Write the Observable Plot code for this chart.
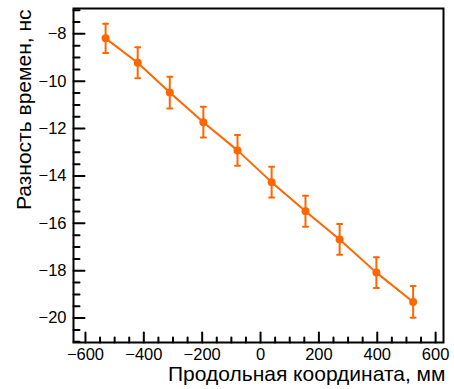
<!DOCTYPE html>
<html><head><meta charset="utf-8">
<script src="https://cdn.jsdelivr.net/npm/d3@7"></script>
<script src="https://cdn.jsdelivr.net/npm/@observablehq/plot@0.6"></script>
<style>body{margin:0;background:#fff}</style>
</head><body><div id="chart"></div>
<script>
const positions = [-531, -421, -311, -196, -79, 38, 154, 271, 397, 523];
const timeDiffs = [-8.19, -9.22, -10.48, -11.73, -12.92, -14.26, -15.49, -16.68, -18.08, -19.32];
const errors = [0.62, 0.65, 0.67, 0.65, 0.65, 0.65, 0.65, 0.65, 0.65, 0.67];
const xMajorTicks = [-600, -400, -200, 0, 200, 400, 600];
const xMinorTicks = d3.range(-600, 601, 50).filter(v => v % 200 !== 0);
const yMajorTicks = [-20, -18, -16, -14, -12, -10, -8];
const yMinorTicks = d3.range(-21, -6.9, 0.5).filter(v => Math.abs(v % 2) > 1e-9);
const xTitle = "Продольная координата, мм";
const yTitle = "Разность времен, нс";
const orange = "#ff6600";

const data = positions.map((x, i) => ({x, y: timeDiffs[i], e: errors[i]}));
const tickShape = {draw(ctx, l) { ctx.moveTo(0, 0); ctx.lineTo(0, -l); }};

const chart = Plot.plot({
  width: 454, height: 389,
  marginLeft: 73, marginTop: 8, marginRight: 11, marginBottom: 47,
  style: {fontFamily: "'Liberation Sans', Arial, sans-serif", fontSize: "16.5px", background: "#fff", color: "#000"},
  x: {domain: [-641, 627]},
  y: {domain: [-21.03, -6.93]},
  marks: [
    Plot.axisX(xMajorTicks, {tickSize: 0, tickPadding: 6, label: null, fontSize: 16.5}),
    Plot.axisY(yMajorTicks, {tickSize: 0, tickPadding: 7, label: null, fontSize: 16.5}),
    Plot.vector(xMajorTicks, {x: d => d, frameAnchor: "bottom", length: 10, anchor: "start", shape: tickShape, stroke: "#000", strokeWidth: 2}),
    Plot.vector(xMinorTicks, {x: d => d, frameAnchor: "bottom", length: 5, anchor: "start", shape: tickShape, stroke: "#000", strokeWidth: 2}),
    Plot.vector(yMajorTicks, {y: d => d, frameAnchor: "left", length: 11, rotate: 90, anchor: "start", shape: tickShape, stroke: "#000", strokeWidth: 2}),
    Plot.vector(yMinorTicks, {y: d => d, frameAnchor: "left", length: 6, rotate: 90, anchor: "start", shape: tickShape, stroke: "#000", strokeWidth: 2}),
    Plot.frame({stroke: "#000", strokeWidth: 2}),
    Plot.line(data, {x: "x", y: "y", stroke: orange, strokeWidth: 2}),
    Plot.ruleX(data, {x: "x", y1: d => d.y - d.e, y2: d => d.y + d.e, stroke: orange, strokeWidth: 2}),
    Plot.vector(data, {x: "x", y: d => d.y - d.e, length: 5, rotate: 90, anchor: "middle", shape: tickShape, stroke: orange, strokeWidth: 2}),
    Plot.vector(data, {x: "x", y: d => d.y + d.e, length: 5, rotate: 90, anchor: "middle", shape: tickShape, stroke: orange, strokeWidth: 2}),
    Plot.dot(data, {x: "x", y: "y", r: 4, fill: orange}),
    Plot.text([xTitle], {frameAnchor: "bottom-right", dx: 2, dy: 38, textAnchor: "end", lineAnchor: "bottom", fontSize: 21, fill: "#000"}),
    Plot.text([yTitle], {frameAnchor: "top-left", dx: -43, dy: 1, rotate: -90, textAnchor: "end", lineAnchor: "bottom", fontSize: 21, fill: "#000"})
  ]
});
document.getElementById("chart").append(chart);
</script>
</body></html>
